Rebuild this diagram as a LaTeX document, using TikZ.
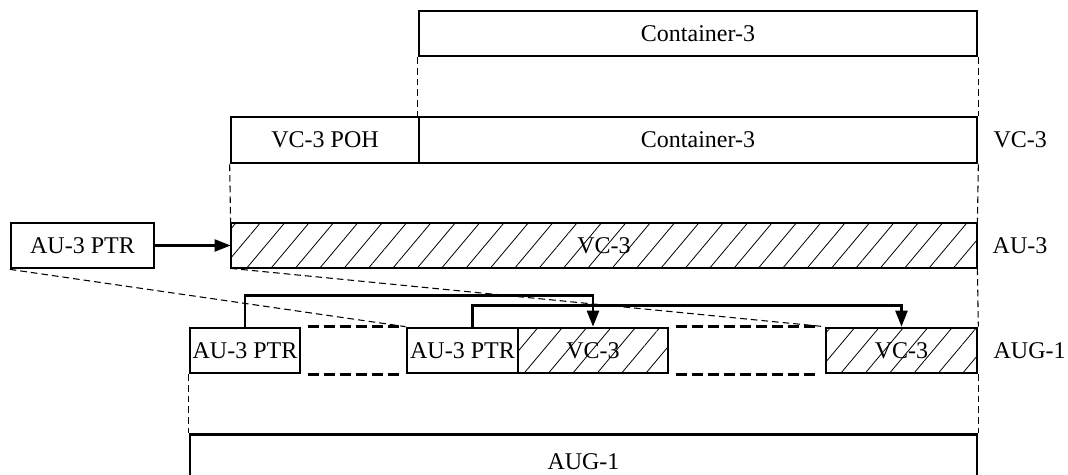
\documentclass[tikz,border=0pt]{standalone}
\usepackage{fontspec}
\setmainfont{Liberation Serif}
\usetikzlibrary{positioning, arrows.meta, patterns.meta}

\begin{document}
\begin{tikzpicture}[x=0.75pt,y=0.75pt,yscale=-1,xscale=1,
    frame/.style={draw, line width=2pt, inner sep=0pt, minimum height=33.75pt, font=\fontsize{18}{20}\selectfont},
    hatched/.style={frame, pattern={Lines[angle=50,distance=14pt,line width=0.6pt]}},
    guide/.style={line width=0.8pt, dash pattern={on 5pt off 3pt}},
    gapline/.style={line width=2pt, dash pattern={on 8pt off 4pt}, shorten <=5pt, shorten >=5pt},
    pointer/.style={line width=1.8pt, -{Triangle[length=12pt,width=9pt]}},
    rowlabel/.style={inner sep=0pt, font=\fontsize{18}{20}\selectfont}]
    \useasboundingbox (0,0) rectangle (1068,475);

    %Shape: Rectangle [container]
    \node [frame, minimum width=418.5pt] (cont1) at (698,33.5) {Container-3};
    %Shape: Rectangle [vc-3 row]
    \node [frame, minimum width=141pt, minimum height=34.5pt] (poh) at (325,140) {VC-3 POH};
    \node [frame, minimum width=418.5pt, minimum height=34.5pt] (cont2) at (698,140) {Container-3};
    %Shape: Rectangle [au-3 row]
    \node [frame, minimum width=107.25pt] (ptr0) at (82.5,245.5) {AU-3 PTR};
    \node [hatched, minimum width=559.5pt] (au3) at (604,245.5) {VC-3};
    %Shape: Rectangle [aug-1 row]
    \node [frame, minimum width=82.5pt] (ptr1) at (245,350.5) {AU-3 PTR};
    \node [frame, minimum width=83.25pt] (ptr2) at (462.5,350.5) {AU-3 PTR};
    \node [hatched, minimum width=112.5pt] (vc1) at (593,350.5) {VC-3};
    \node [hatched, minimum width=113.25pt] (vc2) at (901.5,350.5) {VC-3};
    %Shape: Rectangle [aug-1]
    \node [frame, anchor=north, minimum width=590.25pt, minimum height=40.5pt] (aug) at (583.5,433) {AUG-1};

    % Text Node
    \node [rowlabel, anchor=west, right=11.25pt of cont2] (lvc) {VC-3};
    % Text Node
    \node [rowlabel, anchor=west, right=11.25pt of au3] (lau) {AU-3};
    % Text Node
    \node [rowlabel, anchor=west, right=11.25pt of vc2] (laug) {AUG-1};

    %Straight Lines [guides]
    \draw [guide] (cont1.south west) -- (cont2.north west);
    \draw [guide] (cont1.south east) -- (cont2.north east);
    \draw [guide] (poh.south west) -- (au3.north west);
    \draw [guide] (cont2.south east) -- (au3.north east);
    \draw [guide] (ptr0.south west) -- (ptr2.north west);
    \draw [guide] (au3.south west) -- (vc2.north west);
    \draw [guide] (au3.south east) -- (vc2.north east);
    \draw [guide] (ptr1.south west) -- (aug.north west);
    \draw [guide] (vc2.south east) -- (aug.north east);

    %Straight Lines [gaps]
    \draw [gapline] (ptr1.north east) -- (ptr2.north west);
    \draw [gapline] (ptr1.south east) -- (ptr2.south west);
    \draw [gapline] (vc1.north east) -- (vc2.north west);
    \draw [gapline] (vc1.south east) -- (vc2.south west);

    %Straight Lines [pointers]
    \draw [pointer] (ptr0.east) -- (au3.west);
    \draw [pointer] (ptr1.north) -- ++(0,-31) -| (vc1.north);
    \draw [pointer] ([xshift=7.5pt]ptr2.north) -- ++(0,-21) -| (vc2.north);

\end{tikzpicture}
\end{document}
